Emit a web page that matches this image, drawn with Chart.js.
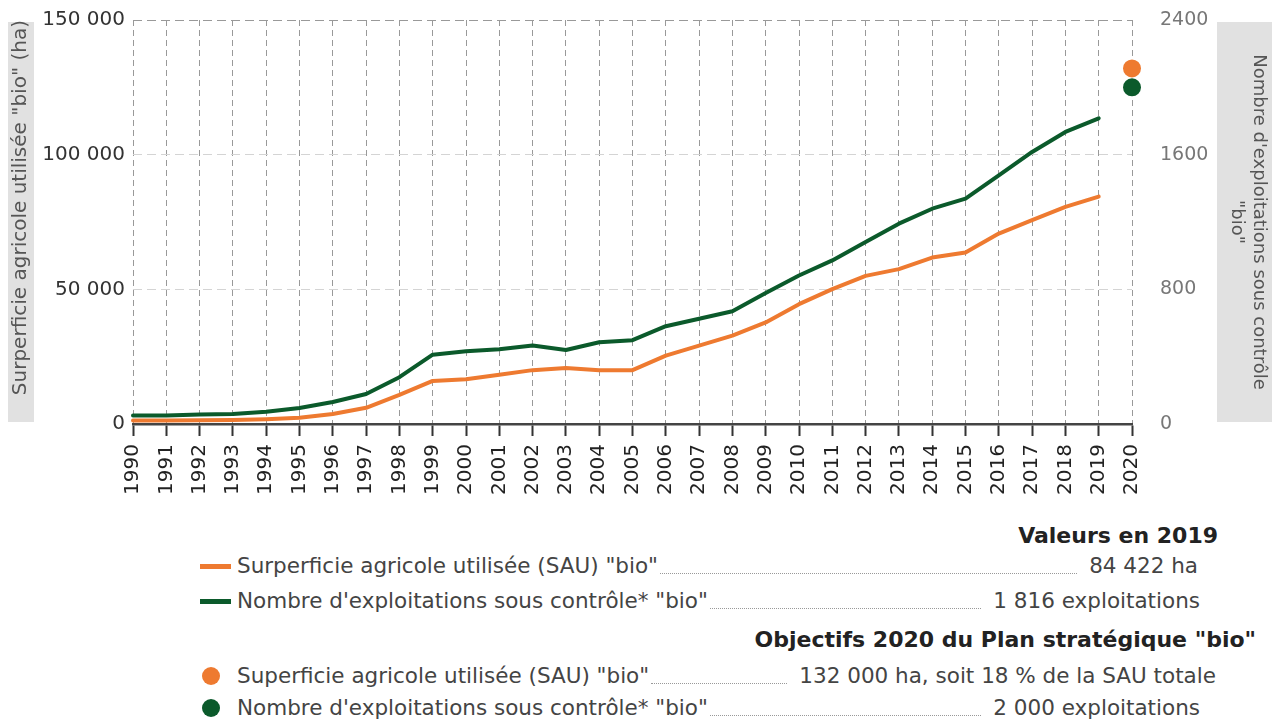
<!DOCTYPE html>
<html lang="fr">
<head>
<meta charset="utf-8">
<title>Agriculture bio</title>
<script src="https://cdn.jsdelivr.net/npm/chart.js@4/dist/chart.umd.min.js"></script>
<style>
    body { margin: 0; background: #fff; font-family: "DejaVu Sans", sans-serif; }
    #wrap { position: relative; width: 1277px; height: 722px; overflow: hidden; }
    #chartBox { position: absolute; left: 0; top: 0; width: 1277px; height: 520px; }
    .head { position: absolute; font-weight: bold; font-size: 22px; color: #222; line-height: 24px; white-space: nowrap; }
    .row { position: absolute; left: 200px; height: 24px; line-height: 24px; display: flex; align-items: center; font-size: 21.5px; color: #444; white-space: nowrap; }
    .sw { width: 37px; height: 24px; position: relative; flex: none; }
    .sw .ln { position: absolute; left: 0; top: 10px; width: 31px; height: 5px; }
    .sw .dot { position: absolute; left: 2px; top: 3px; width: 18px; height: 18px; border-radius: 50%; }
    .lead { flex: 1; align-self: stretch; border-bottom: 1.5px dotted #999; margin: 0 12px 4px 2px; }
</style>
</head>
<body>
<div id="wrap">
    <div id="chartBox"><canvas id="chart"></canvas></div>

    <div class="head" style="right:59px; top:524px;">Valeurs en 2019</div>
    <div class="row" style="top:554px; width:998px;">
        <div class="sw"><div class="ln" style="background:#ee7a30;"></div></div>
        <span>Surperficie agricole utilisée (SAU) "bio"</span><div class="lead"></div><span>84 422 ha</span>
    </div>
    <div class="row" style="top:589px; width:1000px;">
        <div class="sw"><div class="ln" style="background:#0b5a2b;"></div></div>
        <span>Nombre d'exploitations sous contrôle* "bio"</span><div class="lead"></div><span>1 816 exploitations</span>
    </div>

    <div class="head" style="right:21px; top:628px;">Objectifs 2020 du Plan stratégique "bio"</div>
    <div class="row" style="top:664px; width:1016px;">
        <div class="sw"><div class="dot" style="background:#ee7a30;"></div></div>
        <span>Superficie agricole utilisée (SAU) "bio"</span><div class="lead"></div><span>132 000 ha, soit 18 % de la SAU totale</span>
    </div>
    <div class="row" style="top:696px; width:1000px;">
        <div class="sw"><div class="dot" style="background:#0b5a2b;"></div></div>
        <span>Nombre d'exploitations sous contrôle* "bio"</span><div class="lead"></div><span>2 000 exploitations</span>
    </div>
</div>

<script>
// années (axe x)
const years = ['1990', '1991', '1992', '1993', '1994', '1995', '1996', '1997', '1998', '1999',
    '2000', '2001', '2002', '2003', '2004', '2005', '2006', '2007', '2008', '2009',
    '2010', '2011', '2012', '2013', '2014', '2015', '2016', '2017', '2018', '2019', '2020'];

// SAU "bio" (ha), axe de gauche
const sauBio = [1300, 1300, 1400, 1500, 1800, 2300, 3700, 6000, 10800, 16000,
    16600, 18300, 20000, 20800, 20000, 20000, 25400, 29100, 32800, 37700,
    44500, 50100, 55000, 57500, 61800, 63700, 70700, 75700, 80600, 84422, null];

// nombre d'exploitations "bio", axe de droite
const exploitBio = [50, 50, 57, 60, 73, 95, 131, 178, 278, 412,
    432, 444, 466, 440, 486, 498, 581, 625, 670, 778,
    882, 972, 1081, 1190, 1279, 1339, 1477, 1616, 1735, 1816, null];

// objectifs 2020
const objectifSau = [null, null, null, null, null, null, null, null, null, null,
    null, null, null, null, null, null, null, null, null, null,
    null, null, null, null, null, null, null, null, null, null, 132000];
const objectifExploit = [null, null, null, null, null, null, null, null, null, null,
    null, null, null, null, null, null, null, null, null, null,
    null, null, null, null, null, null, null, null, null, null, 2000];

const leftTicks = [0, 50000, 100000, 150000];
const rightTicks = [0, 800, 1600, 2400];

const ORANGE = '#ee7a30';
const GREEN = '#0b5a2b';
const FONT = '"DejaVu Sans", sans-serif';

function formatMilliers(v) {
    return String(v).replace(/\B(?=(\d{3})+(?!\d))/g, ' ');
}

// fond gris derrière les titres des axes
const titleBoxes = {
    id: 'titleBoxes',
    beforeDraw(chart) {
        const { ctx, chartArea, scales } = chart;
        ctx.save();
        ctx.fillStyle = '#e1e1e1';
        const top = chartArea.top + 2;
        const h = chartArea.bottom - chartArea.top - 4;
        ctx.fillRect(scales.y.left, top, 26, h);
        ctx.fillRect(scales.y2.right - 55, top, 55, h);
        ctx.restore();
    }
};

window.onload = () => {
    const canvas = document.getElementById('chart');
    const ctx = canvas.getContext('2d');

    new Chart(ctx, {
        type: 'line',
        data: {
            labels: years,
            datasets: [
                {
                    label: 'Nombre d\'exploitations sous contrôle* "bio"',
                    data: exploitBio,
                    yAxisID: 'y2',
                    borderColor: GREEN,
                    borderWidth: 4,
                    pointRadius: 0,
                    tension: 0,
                    borderJoinStyle: 'round',
                    borderCapStyle: 'round',
                    fill: false
                },
                {
                    label: 'Surperficie agricole utilisée (SAU) "bio"',
                    data: sauBio,
                    yAxisID: 'y',
                    borderColor: ORANGE,
                    borderWidth: 4,
                    pointRadius: 0,
                    tension: 0,
                    borderJoinStyle: 'round',
                    borderCapStyle: 'round',
                    fill: false
                },
                {
                    label: 'Objectif SAU',
                    data: objectifSau,
                    yAxisID: 'y',
                    showLine: false,
                    pointRadius: 9,
                    pointBackgroundColor: ORANGE,
                    pointBorderColor: ORANGE,
                    pointBorderWidth: 0,
                    clip: false
                },
                {
                    label: 'Objectif exploitations',
                    data: objectifExploit,
                    yAxisID: 'y2',
                    showLine: false,
                    pointRadius: 9,
                    pointBackgroundColor: GREEN,
                    pointBorderColor: GREEN,
                    pointBorderWidth: 0,
                    clip: false
                }
            ]
        },
        options: {
            responsive: true,
            maintainAspectRatio: false,
            animation: false,
            layout: { padding: { left: 8, right: 5, top: 20, bottom: 0 } },
            plugins: {
                legend: { display: false },
                tooltip: { enabled: false }
            },
            scales: {
                x: {
                    type: 'category',
                    offset: false,
                    afterFit: s => { s.height = 96; s.paddingLeft = 0; s.paddingRight = 0; },
                    border: { display: true, color: '#444', width: 2.5, dash: [6, 4] },
                    grid: {
                        color: '#999',
                        lineWidth: 1,
                        tickLength: 12,
                        tickColor: '#333',
                        tickWidth: 2,
                        tickBorderDash: [1, 0]
                    },
                    ticks: {
                        autoSkip: false,
                        minRotation: 90,
                        maxRotation: 90,
                        padding: 8,
                        color: '#222',
                        font: { family: FONT, size: 20 }
                    }
                },
                y: {
                    position: 'left',
                    min: 0,
                    max: 150000,
                    afterFit: s => { s.width = 125; s.paddingTop = 0; s.paddingBottom = 0; },
                    afterBuildTicks: s => { s.ticks = leftTicks.map(v => ({ value: v })); },
                    border: { display: false, dash: [9, 5] },
                    grid: {
                        color: c => (c.tick && c.tick.value === 150000) ? '#999' : '#d4d4d4',
                        lineWidth: 1,
                        drawTicks: false
                    },
                    ticks: {
                        padding: 8,
                        color: '#333',
                        font: { family: FONT, size: 20 },
                        callback: v => formatMilliers(v)
                    },
                    title: {
                        display: true,
                        text: 'Surperficie agricole utilisée "bio" (ha)',
                        align: 'end',
                        color: '#555',
                        padding: { top: 1, bottom: 0 },
                        font: { family: FONT, size: 20 }
                    }
                },
                y2: {
                    position: 'right',
                    min: 0,
                    max: 2400,
                    afterFit: s => { s.width = 140; s.paddingTop = 0; s.paddingBottom = 0; },
                    afterBuildTicks: s => { s.ticks = rightTicks.map(v => ({ value: v })); },
                    border: { display: false },
                    grid: { drawOnChartArea: false, drawTicks: false },
                    ticks: {
                        padding: 28,
                        color: '#777',
                        font: { family: FONT, size: 19 },
                        callback: v => String(v)
                    },
                    title: {
                        display: true,
                        text: ['Nombre d\'exploitations sous contrôle', '"bio"'],
                        align: 'center',
                        color: '#555',
                        padding: { top: 3, bottom: 0 },
                        font: { family: FONT, size: 18 }
                    }
                }
            }
        },
        plugins: [titleBoxes]
    });
};
</script>
</body>
</html>
